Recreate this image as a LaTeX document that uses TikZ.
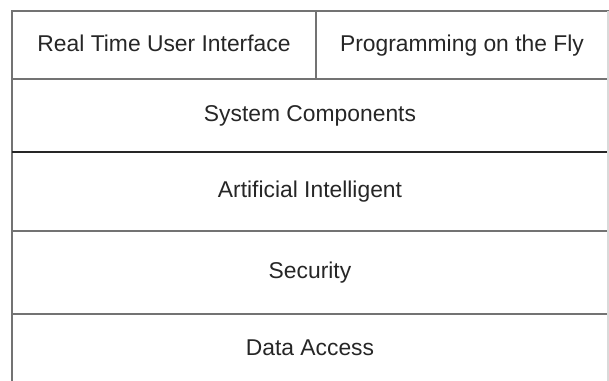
\documentclass[tikz,border=0pt]{standalone}
\usepackage{fontspec}
\setmainfont{Liberation Sans}
\usetikzlibrary{positioning}
\tikzset{
  layer/.style={draw=black!55, line width=1pt, inner sep=0pt, outer sep=0pt,
    minimum width=11.92cm, text=black!85, text height=0.72em, text depth=0em,
    font=\fontsize{13}{15}\selectfont},
  half/.style={layer, minimum height=1.36cm}
}

\begin{document}
\begin{tikzpicture}
        \useasboundingbox (0,0) rectangle (12.18,7.62);
        % top row, two boxes
        \node[half, minimum width=6.08cm, anchor=north west] (ui) at (0.24,7.40) {Real Time User Interface};
        \node[half, minimum width=5.84cm, right=0pt of ui] (fly) {Programming on the Fly};
        % layers below
        \node[layer, minimum height=1.46cm, below=0pt of ui.south west, anchor=north west] (comp) {System Components};
        \node[layer, minimum height=1.58cm, below=0pt of comp] (ai) {Artificial Intelligent};
        \node[layer, minimum height=1.66cm, below=0pt of ai] (sec) {Security};
        \node[layer, minimum height=1.40cm, below=0pt of sec] (data) {Data Access};
        \draw[black!85, line width=1pt] (ai.north west) -- (ai.north east);
        % faint right edge
        \draw[black!15, line width=1pt] (fly.north east) -- (data.south east);
\end{tikzpicture}
\end{document}
